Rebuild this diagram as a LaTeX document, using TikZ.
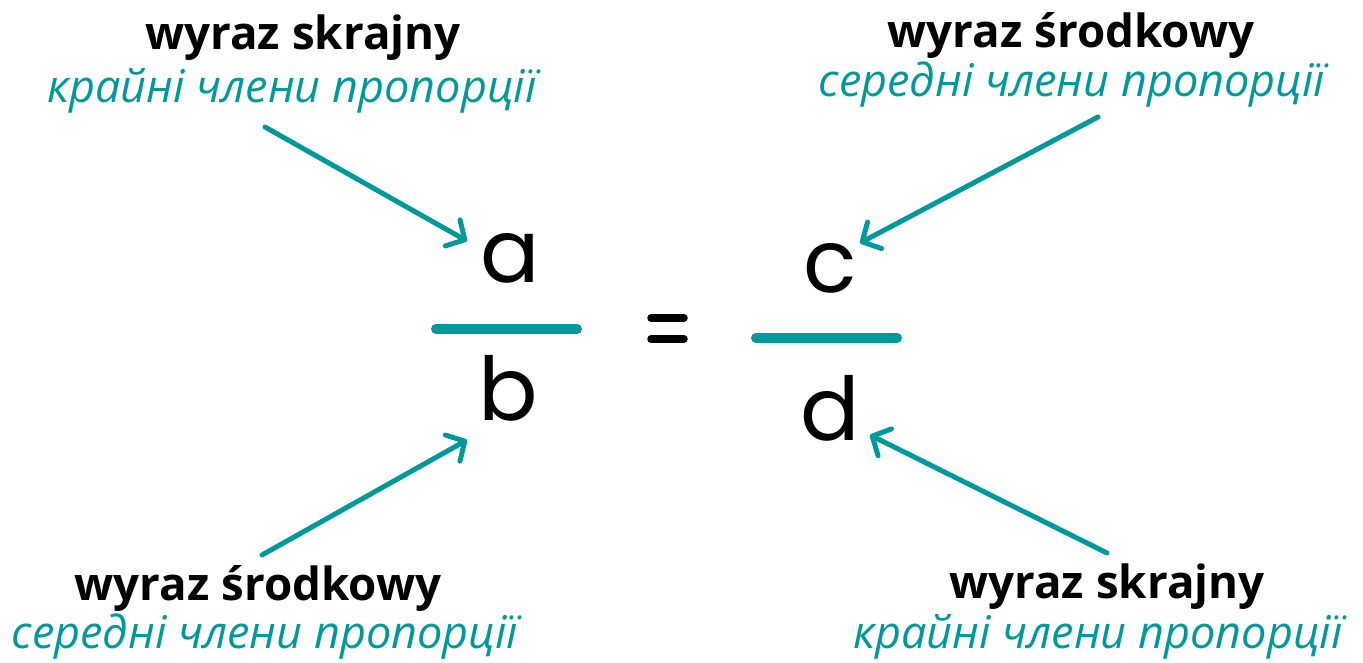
\documentclass[tikz,border=0pt]{standalone}
\usepackage{fontspec}
\setmainfont{Open Sans}
\newfontfamily\hand{Poppins}
\usetikzlibrary{arrows.meta}
\definecolor{teal1}{RGB}{0,153,155}
\tikzset{
  bold/.style={anchor=base, inner sep=0pt, font=\fontsize{45.7}{50}\selectfont\bfseries, text=black},
  ital/.style={anchor=base, inner sep=0pt, font=\fontsize{45}{50}\selectfont\itshape, text=teal1},
  letter/.style={anchor=base, inner sep=0pt, font=\fontsize{88}{96}\selectfont\hand, text=black},
  arr/.style={draw=teal1, line width=5pt, line cap=round, -{Straight Barb[length=14pt, width=30pt, line width=5pt, line cap=round, line join=round]}},
  bar/.style={draw=teal1, line width=10pt, line cap=round},
}
\begin{document}
\begin{tikzpicture}[x=1pt, y=-1pt]
\useasboundingbox (0,0) rectangle (1363,663);
% labels
\node[bold] (tlb) at (303,50) {wyraz skrajny};
\node[ital] (tli) at (292,103) {крайні члени пропорції};
\node[bold] (trb) at (1071,48) {wyraz środkowy};
\node[ital] (tri) at (1072,97) {середні члени пропорції};
\node[bold] (blb) at (258,600) {wyraz środkowy};
\node[ital] (bli) at (265,648) {середні члени пропорції};
\node[bold] (brb) at (1107,598) {wyraz skrajny};
\node[ital] (bri) at (1098,648) {крайні члени пропорції};
% letters
\node[letter] (a) at (510,282) {a};
\node[letter] (b) at (508,420) {b};
\node[letter] (c) at (830,292) {c};
\node[letter] (d) at (830,440) {d};
% fraction bars
\coordinate (l1) at (436,329); \coordinate (l2) at (577,329);
\coordinate (r1) at (756,338); \coordinate (r2) at (897,338);
\draw[bar] (l1) -- (l2);
\draw[bar] (r1) -- (r2);
% equals
\coordinate (e1) at (651,318); \coordinate (e2) at (684,318);
\coordinate (e3) at (651,339); \coordinate (e4) at (684,339);
\draw[line width=7.5pt, line cap=round] (e1) -- (e2);
\draw[line width=7.5pt, line cap=round] (e3) -- (e4);
% arrows
\coordinate (t1) at (265,127); \coordinate (h1) at (467,241);
\coordinate (t2) at (1098,117); \coordinate (h2) at (860,243);
\coordinate (t3) at (262,555); \coordinate (h3) at (467,440);
\coordinate (t4) at (1107,553); \coordinate (h4) at (870,435);
\draw[arr] (t1) -- (h1);
\draw[arr] (t2) -- (h2);
\draw[arr] (t3) -- (h3);
\draw[arr] (t4) -- (h4);
\end{tikzpicture}
\end{document}
